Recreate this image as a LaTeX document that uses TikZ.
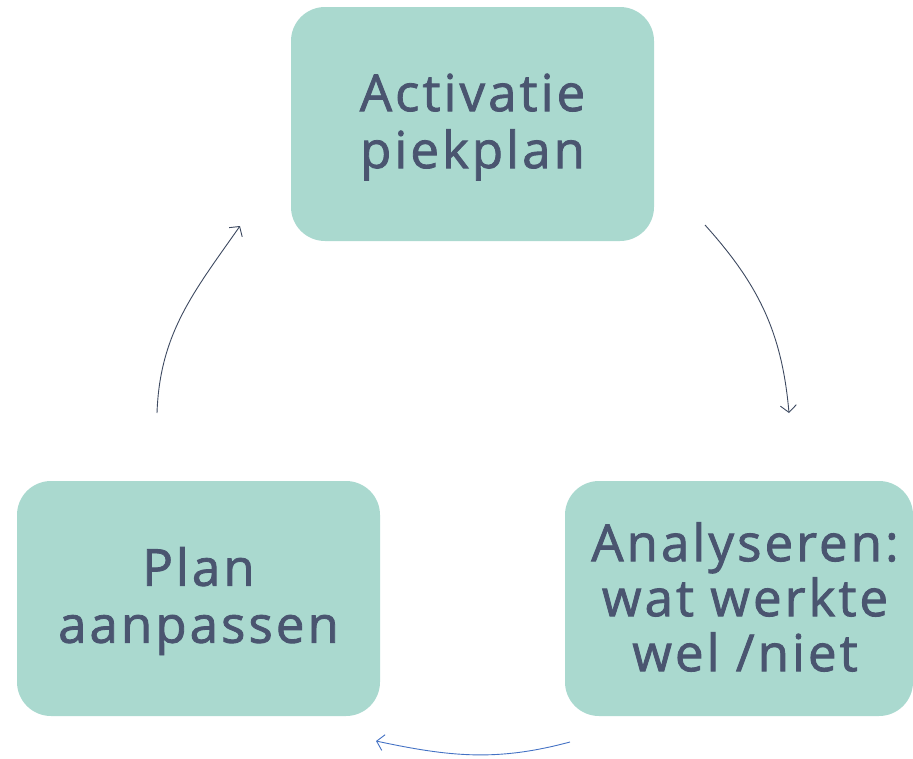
\documentclass[tikz,border=0pt]{standalone}
\usepackage{fontspec}
\setmainfont{Open Sans}[LetterSpace=6, FakeBold=1.6]
\usetikzlibrary{arrows.meta}
\definecolor{boxfill}{HTML}{AAD9CF}
\definecolor{txt}{HTML}{4A5570}
\definecolor{arr}{HTML}{3E4A61}
\definecolor{arrblue}{HTML}{4472C4}
\tikzset{
  boxbg/.style={fill=boxfill, rounded corners=34pt},
  steptext/.style={inner sep=0pt, text=txt, align=center},
  cyc/.style={draw=arr, line width=0.9pt, -{Straight Barb[length=7pt,width=16pt,line width=0.9pt]}},
}
\begin{document}
\begin{tikzpicture}[x=1pt,y=-1pt]
\useasboundingbox (0,0) rectangle (913,758);
\fill[boxbg] (291,7) rectangle (654,241);
\node[steptext, font=\fontsize{51}{57}\selectfont] (act) at (472.5,127) {Activatie\\piekplan};
\fill[boxbg] (17,481) rectangle (380,716);
\node[steptext, font=\fontsize{51}{57}\selectfont] (plan) at (198.5,601) {Plan\\aanpassen};
\fill[boxbg] (565,481) rectangle (913,716);
\node[steptext, font=\fontsize{51}{55}\selectfont] (ana) at (745,597) {Analyseren:\\wat werkte\\wel /niet};
\coordinate (a1) at (705,225);
\coordinate (a2) at (789,413);
\coordinate (b1) at (570,742);
\coordinate (b2) at (376,741);
\coordinate (c1) at (157,413);
\coordinate (c2) at (240,226);
\draw[cyc] (a1) to[out=-48,in=95] (a2);
\draw[cyc, draw=arrblue] (b1) to[out=-165,in=-12] (b2);
\draw[cyc] (c1) to[out=88,in=-125] (c2);
\end{tikzpicture}
\end{document}
